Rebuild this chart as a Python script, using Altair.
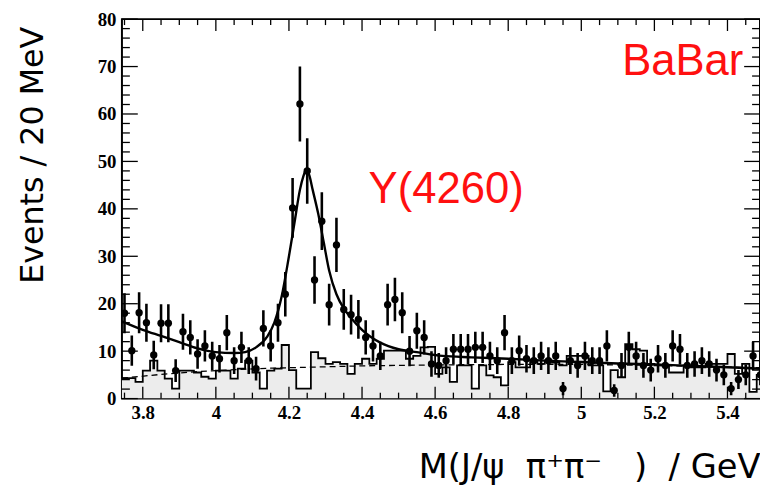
import altair as alt
import pandas as pd
import numpy as np

# ---------------- data ----------------
bin_lo = 3.74
bin_w = 0.02
# data points (events per 20 MeV bin), bin centres 3.75, 3.77, ...
counts = [18.0,10.1,18.1,16.0,9.2,15.9,15.9,5.9,14.1,12.9,
          9.4,11.1,9.0,8.4,13.9,8.0,10.8,8.0,6.3,14.8,
          11.1,16.0,22.0,40.2,62.1,48.0,25.0,37.4,19.8,32.4,
          18.8,17.7,16.7,12.9,11.1,9.0,19.8,20.9,18.1,10.0,
          14.3,12.9,7.3,7.0,8.0,10.4,10.4,10.4,10.8,10.8,
          9.0,8.0,13.9,8.0,10.1,8.4,8.0,9.0,8.0,9.0,
          2.1,8.0,7.0,9.0,8.0,8.0,11.1,1.7,7.0,10.8,
          9.0,7.0,6.0,8.4,7.0,11.1,10.4,7.0,7.3,8.0,
          7.3,6.0,5.0,2.1,4.0,5.0,9.0,5.0]
errors = [4.2,3.2,4.3,4.0,3.0,4.0,4.0,2.4,3.8,3.6,
          3.1,3.3,3.0,2.9,3.7,2.8,3.3,2.8,2.5,3.8,
          3.3,4.0,4.7,6.3,7.9,6.9,5.0,6.1,4.4,5.7,
          4.3,4.2,4.1,3.6,3.3,3.0,4.4,4.6,4.3,3.2,
          3.8,3.6,2.7,2.6,2.8,3.2,3.2,3.2,3.3,3.3,
          3.0,2.8,3.7,2.8,3.2,2.9,2.8,3.0,2.8,3.0,
          1.4,2.8,2.6,3.0,2.8,2.8,3.3,1.3,2.6,3.3,
          3.0,2.6,2.4,2.9,2.6,3.3,3.2,2.6,2.7,2.8,
          2.7,2.4,2.2,1.4,2.0,2.2,3.0,2.2]
# sideband background histogram (grey), same bins
sideband = [4.3,4.3,3.5,5.9,8.0,5.9,4.2,2.1,5.9,5.9,
            5.5,4.6,4.2,5.9,5.9,4.2,6.3,8.0,5.5,2.1,
            5.9,6.3,11.3,6.0,2.1,2.1,9.8,8.5,7.3,7.7,
            7.3,5.2,7.3,8.4,7.3,8.4,10.1,10.1,10.1,8.4,
            9.0,10.8,10.9,5.2,6.6,3.5,7.0,7.0,2.1,7.0,
            4.9,4.5,2.8,7.7,6.6,6.6,8.0,7.3,8.0,7.6,
            7.0,9.0,9.0,9.0,7.0,7.0,1.5,6.0,4.5,11.5,
            10.4,10.1,7.3,7.0,7.0,5.5,5.5,7.0,6.6,6.6,
            7.3,7.3,7.3,9.4,5.2,7.3,1.4,5.0]
# total fit curve
fit_x = [3.743,3.80,3.85,3.90,3.95,4.00,4.05,4.08,4.11,4.14,4.16,4.18,4.20,4.215,
         4.23,4.24,4.248,4.256,4.265,4.28,4.295,4.31,4.33,4.35,4.37,4.40,4.45,4.50,
         4.55,4.62,4.70,4.80,4.90,5.00,5.10,5.20,5.30,5.40,5.489]
fit_y = [16.3,14.5,13.2,11.9,10.6,9.8,9.6,9.8,10.8,13.0,16.0,21.5,30.0,37.0,
         44.0,47.0,48.4,47.0,44.0,39.0,33.0,27.0,22.0,19.0,17.0,14.5,11.8,10.4,
         9.8,9.0,8.7,8.4,8.0,7.7,7.4,7.2,6.9,6.6,6.3]
# dashed background curve
dash_x = [3.743,3.85,3.95,4.05,4.15,4.25,4.40,4.60,4.80,5.00,5.20,5.489]
dash_y = [4.3,5.1,5.7,6.1,6.4,6.6,6.9,7.1,7.2,7.2,7.0,6.5]

x_major = [3.8,4.0,4.2,4.4,4.6,4.8,5.0,5.2,5.4]
y_major = [0,10,20,30,40,50,60,70,80]

labels = ["BaBar", "Y(4260)"]
label_x = [5.112, 4.418]
label_y = [68.3, 41.3]

NB = "\u00a0"
x_title = f"M(J/ψ{NB}{NB}π⁺π⁻{NB}{NB}{NB}){NB}{NB}/ GeV"

# ---------------- tables ----------------
n = len(counts)
centres = np.round(bin_lo + bin_w * (np.arange(n) + 0.5), 3)
pts = pd.DataFrame({"x": centres, "y": counts,
                    "lo": np.array(counts) - np.array(errors),
                    "hi": np.array(counts) + np.array(errors)})
edges = list(np.round(bin_lo + bin_w * np.arange(n + 1), 3))
hist = pd.DataFrame({"x": edges, "y": sideband + [sideband[-1]]})
fit = pd.DataFrame({"x": fit_x, "y": fit_y})
dash = pd.DataFrame({"x": dash_x, "y": dash_y})
ann = pd.DataFrame({"t": labels, "x": label_x, "y": label_y})

x_minor = [v for v in np.round(np.arange(3.75, 5.49, 0.05), 2) if not np.isclose(v, x_major).any()]
y_minor = [v for v in range(0, 81, 2) if v % 10 != 0]

W, H = 644, 383
XD = [3.743, 5.489]
YD = [0, 80]

xax = alt.Axis(values=x_major, labelExpr="'' + datum.value", title=x_title,
               titleX=W, titleY=80, titleAlign="right", titleBaseline="alphabetic",
               titleAnchor="end", titleFontSize=34)
yax = alt.Axis(values=y_major, title="Events / 20 MeV", titleX=-90, titleY=137,
               titleAngle=270, titleAlign="center", titleBaseline="middle", titleFontSize=32)

def X(field="x"):
    return alt.X(f"{field}:Q", scale=alt.Scale(domain=XD, nice=False, zero=False), axis=xax)

def Y(field="y"):
    return alt.Y(f"{field}:Q", scale=alt.Scale(domain=YD, nice=False), axis=yax)

area = alt.Chart(hist).mark_area(interpolate="step-after", color="#ececec", clip=True).encode(x=X(), y=Y())
hline = alt.Chart(hist).mark_line(interpolate="step-after", color="black", strokeWidth=1.8, clip=True).encode(x=X(), y=Y())
dline = alt.Chart(dash).mark_line(color="black", strokeWidth=1.3, strokeDash=[6, 4], clip=True).encode(x=X(), y=Y())
fline = alt.Chart(fit).mark_line(color="black", strokeWidth=2.4, interpolate="monotone", clip=True).encode(x=X(), y=Y())
ebar = alt.Chart(pts).mark_rule(color="black", strokeWidth=2.6, clip=True).encode(
    x=X(), y=Y("lo"), y2="hi:Q")
dots = alt.Chart(pts).mark_circle(color="black", opacity=1, size=55, clip=True).encode(x=X(), y=Y())

# inward ticks on four sides
def xticks(vals, L):
    d = pd.DataFrame({"x": vals})
    b = alt.Chart(d).mark_rule(color="black", strokeWidth=1.3).encode(
        x=X(), y=alt.value(H), y2=alt.value(H - L))
    t = alt.Chart(d).mark_rule(color="black", strokeWidth=1.3).encode(
        x=X(), y=alt.value(0), y2=alt.value(L))
    return [b, t]

def yticks(vals, L):
    d = pd.DataFrame({"y": vals})
    l = alt.Chart(d).mark_rule(color="black", strokeWidth=1.3).encode(
        y=Y(), x=alt.value(0), x2=alt.value(L))
    r = alt.Chart(d).mark_rule(color="black", strokeWidth=1.3).encode(
        y=Y(), x=alt.value(W), x2=alt.value(W - L))
    return [l, r]

ticks = xticks(x_major, 12) + xticks(x_minor, 6) + yticks(y_major, 16) + yticks(y_minor, 8)

t1 = alt.Chart(ann[ann.t == "BaBar"]).mark_text(
    align="left", baseline="alphabetic", color="#ff1010", fontSize=44, font="Liberation Sans"
).encode(x=X(), y=Y(), text="t:N")
t2 = alt.Chart(ann[ann.t == "Y(4260)"]).mark_text(
    align="left", baseline="alphabetic", color="#ff1010", fontSize=44, font="Liberation Sans"
).encode(x=X(), y=Y(), text="t:N")

chart = alt.layer(area, hline, dline, fline, ebar, dots, *ticks, t1, t2).properties(
    width=W, height=H,
    autosize=alt.AutoSizeParams(type="none"),
    padding={"left": 115, "top": 9, "right": 0, "bottom": 85},
).configure_view(stroke="black", strokeWidth=2).configure_axis(
    grid=False, ticks=False, tickSize=0, domain=False,
    labelFont="Liberation Serif", labelFontWeight="bold", labelFontSize=19, labelColor="black",
    titleFont="DejaVu Sans", titleFontWeight="normal", titleColor="black",
).configure_axisX(labelPadding=5, labelBaseline="top").configure_axisY(labelPadding=6)

chart.save("out.html", embed_options={"renderer": "svg", "actions": False})
